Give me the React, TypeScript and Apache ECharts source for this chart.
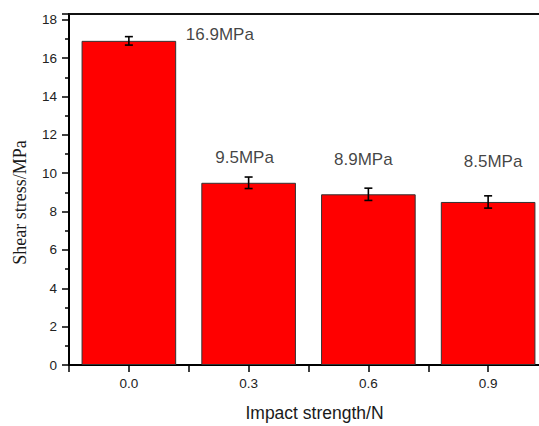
import React, { useEffect, useRef } from "react";
import * as echarts from "echarts";

const categories = ["0.0", "0.3", "0.6", "0.9"];
const shearStress = [16.9, 9.5, 8.9, 8.5];
const errors = [0.22, 0.3, 0.32, 0.32];
const labelTexts = ["16.9MPa", "9.5MPa", "8.9MPa", "8.5MPa"];
const labelHeights = [17.21, 10.8, 10.69, 10.59];
const labelOffsetsX = [91, -4, -5, 5];

export default function App() {
  const ref = useRef<HTMLDivElement>(null);
  useEffect(() => {
    if (!ref.current) return;
    const chart = echarts.init(ref.current, null, { renderer: "svg" });
    const option: any = {
      animation: false,
      backgroundColor: "#ffffff",
      grid: { left: 69, width: 479, top: 14, bottom: 61, containLabel: false, outerBoundsMode: "none" },
      xAxis: [
        {
          type: "category",
          data: categories,
          position: "bottom",
          name: "Impact strength/N",
          nameLocation: "middle",
          nameGap: 39,
          nameTextStyle: { fontFamily: "Liberation Sans, Arial", fontSize: 17.5, color: "#1a1a1a", padding: [0, 0, 0, 12] },
          axisLine: { show: true, onZero: false, lineStyle: { color: "#000", width: 2 } },
          axisTick: { show: true, alignWithLabel: true, length: 7, inside: false, lineStyle: { color: "#000", width: 1.5 } },
          axisLabel: { margin: 11, fontFamily: "Liberation Sans, Arial", fontSize: 13.5, color: "#222" },
          splitLine: { show: false },
        },
        {
          type: "category",
          data: categories,
          position: "bottom",
          axisLine: { show: false },
          axisTick: { show: true, alignWithLabel: false, length: 7, inside: false, lineStyle: { color: "#000", width: 1.5 } },
          axisLabel: { show: false },
          splitLine: { show: false },
        },
        {
          type: "category",
          data: categories,
          position: "top",
          axisLine: { show: true, onZero: false, lineStyle: { color: "#111", width: 2 } },
          axisTick: { show: false },
          axisLabel: { show: false },
          splitLine: { show: false },
        },
      ],
      yAxis: {
        type: "value",
        min: 0,
        max: 18.3,
        interval: 2,
        name: "Shear stress/MPa",
        nameLocation: "middle",
        nameGap: 40,
        nameTextStyle: { fontFamily: "Liberation Serif, Times New Roman", fontSize: 18, color: "#1a1a1a", padding: [0, 26, 0, 0] },
        axisLine: { show: true, onZero: false, lineStyle: { color: "#000", width: 2 } },
        axisTick: { show: true, length: 7, inside: false, lineStyle: { color: "#000", width: 1.5 } },
        minorTick: { show: true, splitNumber: 2, length: 4, lineStyle: { color: "#000", width: 1.5 } },
        axisLabel: {
          margin: 12,
          fontFamily: "Liberation Sans, Arial",
          fontSize: 13.5,
          color: "#222",
          formatter: (v: number) => (v % 2 === 0 && v <= 18 ? String(v) : ""),
        },
        splitLine: { show: false },
      },
      series: [
        {
          type: "bar",
          data: shearStress,
          barWidth: "79%",
          itemStyle: { color: "#ff0000", borderColor: "#333", borderWidth: 1 },
        },
        {
          type: "custom",
          data: shearStress.map((v, i) => [i, v, errors[i]]),
          z: 5,
          renderItem: (params: any, api: any) => {
            const x = api.value(0);
            const v = api.value(1);
            const e = api.value(2);
            const top = api.coord([x, v + e]);
            const bot = api.coord([x, v - e]);
            const cap = 4;
            const style = { stroke: "#000", lineWidth: 1.6 };
            return {
              type: "group",
              children: [
                { type: "line", shape: { x1: top[0], y1: top[1], x2: bot[0], y2: bot[1] }, style },
                { type: "line", shape: { x1: top[0] - cap, y1: top[1], x2: top[0] + cap, y2: top[1] }, style },
                { type: "line", shape: { x1: bot[0] - cap, y1: bot[1], x2: bot[0] + cap, y2: bot[1] }, style },
              ],
            };
          },
        },
        {
          type: "scatter",
          symbolSize: 0,
          z: 6,
          data: labelHeights.map((h, i) => ({
            value: [i, h],
            label: {
              show: true,
              position: "inside",
              offset: [labelOffsetsX[i], 0],
              formatter: labelTexts[i],
              fontFamily: "Liberation Sans, Arial",
              fontSize: 17,
              color: "#111",
            },
          })),
        },
      ],
    };
    chart.setOption(option);
    return () => chart.dispose();
  }, []);
  return (
    <div
      ref={ref}
      style={{ position: "absolute", left: 0, top: 0, width: 539, height: 426, overflow: "hidden" }}
    />
  );
}
